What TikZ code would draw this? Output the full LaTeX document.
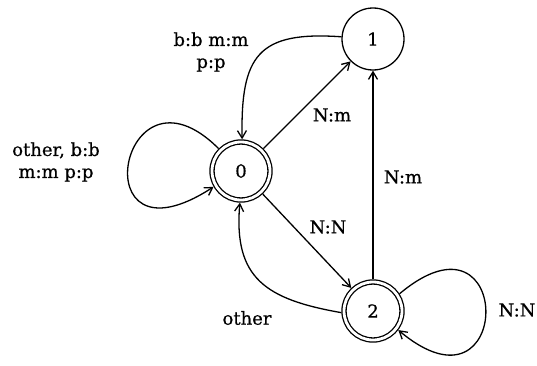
\documentclass[tikz,border=0pt]{standalone}
\usepackage{fontspec}
\setmainfont[FakeBold=0.6]{DejaVu Serif}
\usetikzlibrary{arrows.meta}
\begin{document}
\begin{tikzpicture}[x=1pt,y=1pt,
  state/.style={circle,draw,line width=1.3pt,minimum size=62pt,inner sep=0pt,font=\fontsize{18}{22}\selectfont},
  accept/.style={state,double,double distance=2.8pt,minimum size=58pt,outer sep=2.7pt},
  edge/.style={line width=1.3pt,-{Straight Barb[length=7.5pt,width=9pt]}},
  lab/.style={font=\fontsize{18}{22}\selectfont,align=center,inner sep=0pt}]
\useasboundingbox (0,0) rectangle (537,365);
\node[accept] (n0) at (241,194) {0};
\node[state]  (n1) at (373,326) {1};
\node[accept] (n2) at (373,54) {2};

\draw[edge] (n0) -- (n1);
\draw[edge] (n0) -- (n2);
\draw[edge] (n2) -- (n1);
\draw[edge] (n1.176) to[out=176,in=91,looseness=1.5] (n0.88);
\draw[edge] (n2.183) to[out=170,in=-95,looseness=1.3] (n0.-92);
\draw[edge] (n0.135) .. controls +(135:140) and +(213:160) .. (n0.210);
\draw[edge] (n2.33) .. controls +(40:151) and +(-40:151) .. (n2.-37);

\node[lab] (l1) at (211,313) {b:b m:m\\p:p};
\node[lab] (l2) at (56,203) {other, b:b\\m:m p:p};
\node[lab] (l3) at (332,250) {N:m};
\node[lab] (l4) at (403,188) {N:m};
\node[lab] (l5) at (328,138) {N:N};
\node[lab] (l6) at (247,47) {other};
\node[lab] (l7) at (517,55) {N:N};
\end{tikzpicture}
\end{document}
